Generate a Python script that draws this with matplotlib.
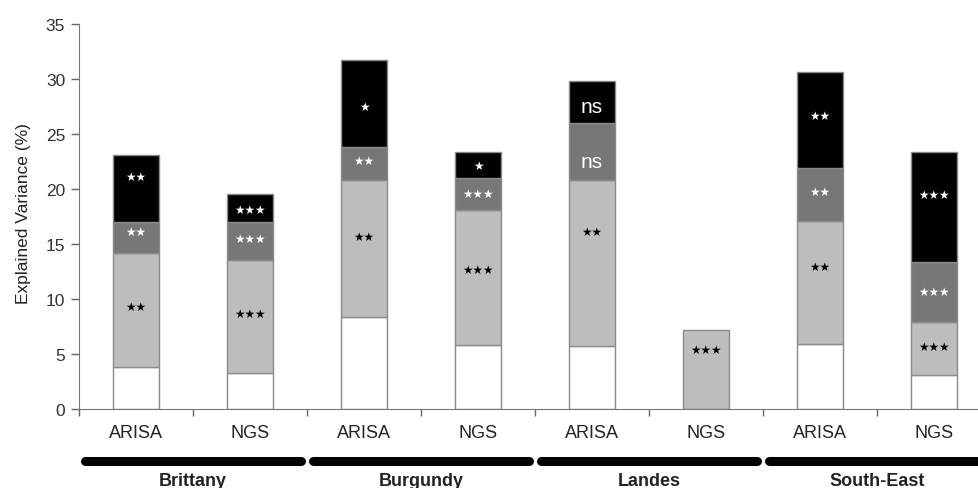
import matplotlib
matplotlib.use("Agg")
import matplotlib.pyplot as plt
import matplotlib.transforms as mtransforms
import numpy as np

plt.rcParams['font.family'] = ['Liberation Sans', 'DejaVu Sans']

# Data
sites = ["Brittany", "Burgundy", "Landes", "South-East"]
methods = ["ARISA", "NGS", "ARISA", "NGS", "ARISA", "NGS", "ARISA", "NGS"]
# stacked components (explained variance, %)
white = [3.8, 3.3, 8.4, 5.8, 5.7, 0.0, 5.9, 3.1]
light = [10.4, 10.2, 12.4, 12.3, 15.1, 7.2, 11.2, 4.8]
dark = [2.8, 3.5, 3.0, 2.9, 5.2, 0.0, 4.8, 5.5]
black = [6.1, 2.5, 7.9, 2.4, 3.8, 0.0, 8.7, 10.0]
light_sig = ["**", "***", "**", "***", "**", "***", "**", "***"]
dark_sig = ["**", "***", "**", "***", "ns", "", "**", "***"]
black_sig = ["**", "***", "*", "*", "ns", "", "**", "***"]

fig = plt.figure(figsize=(9.79, 4.89), dpi=100)
ax = fig.add_axes([0.0807, 0.1616, 0.9316, 0.7874])

x = np.arange(len(methods))
w = 0.4
edge = "#8a8a8a"
cols = ["white", "#bdbdbd", "#777777", "black"]
series = [white, light, dark, black]
bottom = np.zeros(len(methods))
bottoms = []
for vals, c in zip(series, cols):
    vals = np.array(vals)
    bottoms.append(bottom.copy())
    mask = vals > 0
    ax.bar(x[mask], vals[mask], w, bottom=bottom[mask], color=c, edgecolor=edge, linewidth=1.0, zorder=2)
    bottom = bottom + vals


def lab(s):
    return s.replace("*", "\u2605")


# layout: vertical nudges of the significance labels from segment centres (data units)
nudges = [
    [0.3, 0.3, 1.1, 0.75, 2.85, 1.8, 1.5, 0.2],
    [0.5, 0.25, 0.3, 0.0, -0.9, 0.0, 0.3, 0.0],
    [1.1, -0.15, -0.25, -0.1, -0.4, 0.0, 0.45, 1.1],
]

for i in range(len(methods)):
    for k, (sig, tc) in enumerate([(light_sig, "black"), (dark_sig, "white"), (black_sig, "white")]):
        s = sig[i]
        if not s:
            continue
        vals = series[k + 1]
        yc = bottoms[k + 1][i] + vals[i] / 2 + nudges[k][i]
        if s == "ns":
            ax.text(x[i], yc, s, ha="center", va="center", color=tc, fontsize=15, zorder=3)
        else:
            ax.text(x[i], yc, lab(s), ha="center", va="center", color=tc, fontsize=8.5,
                    family="DejaVu Sans", zorder=3)

ax.set_ylim(0, 35)
ax.set_xlim(-0.5, 7.5)
ax.set_yticks(np.arange(0, 36, 5))
ax.tick_params(axis="y", labelsize=12.5, colors="#666666", length=6, width=1, direction="out",
               labelcolor="#333333", pad=4)
ax.set_xticks(np.arange(-0.5, 8, 1))
ax.set_xticklabels([])
ax.tick_params(axis="x", length=5, width=1, direction="out", colors="#666666")
trans = mtransforms.blended_transform_factory(ax.transData, ax.transAxes)
for i, m in enumerate(methods):
    ax.text(x[i], -0.062, m, transform=trans, ha="center", va="center", fontsize=13, color="#222222")
ax.spines["top"].set_visible(False)
ax.spines["right"].set_visible(False)
ax.spines["left"].set_color("#777777")
ax.spines["bottom"].set_color("#777777")
ax.set_ylabel("Explained Variance (%)", fontsize=12.5, color="#222222")
ax.yaxis.set_label_coords(-0.053, 0.51)

for g, name in enumerate(sites):
    x0 = -0.45 + 2 * g
    x1 = 1.45 + 2 * g
    ax.plot([x0, x1], [-0.135, -0.135], transform=trans, color="black", lw=6.5,
            solid_capstyle="round", clip_on=False)
    ax.text(2 * g + 0.5, -0.186, name, transform=trans, ha="center", va="center",
            fontsize=13, fontweight="bold", color="#222222")

fig.savefig("out.png", dpi=100)
